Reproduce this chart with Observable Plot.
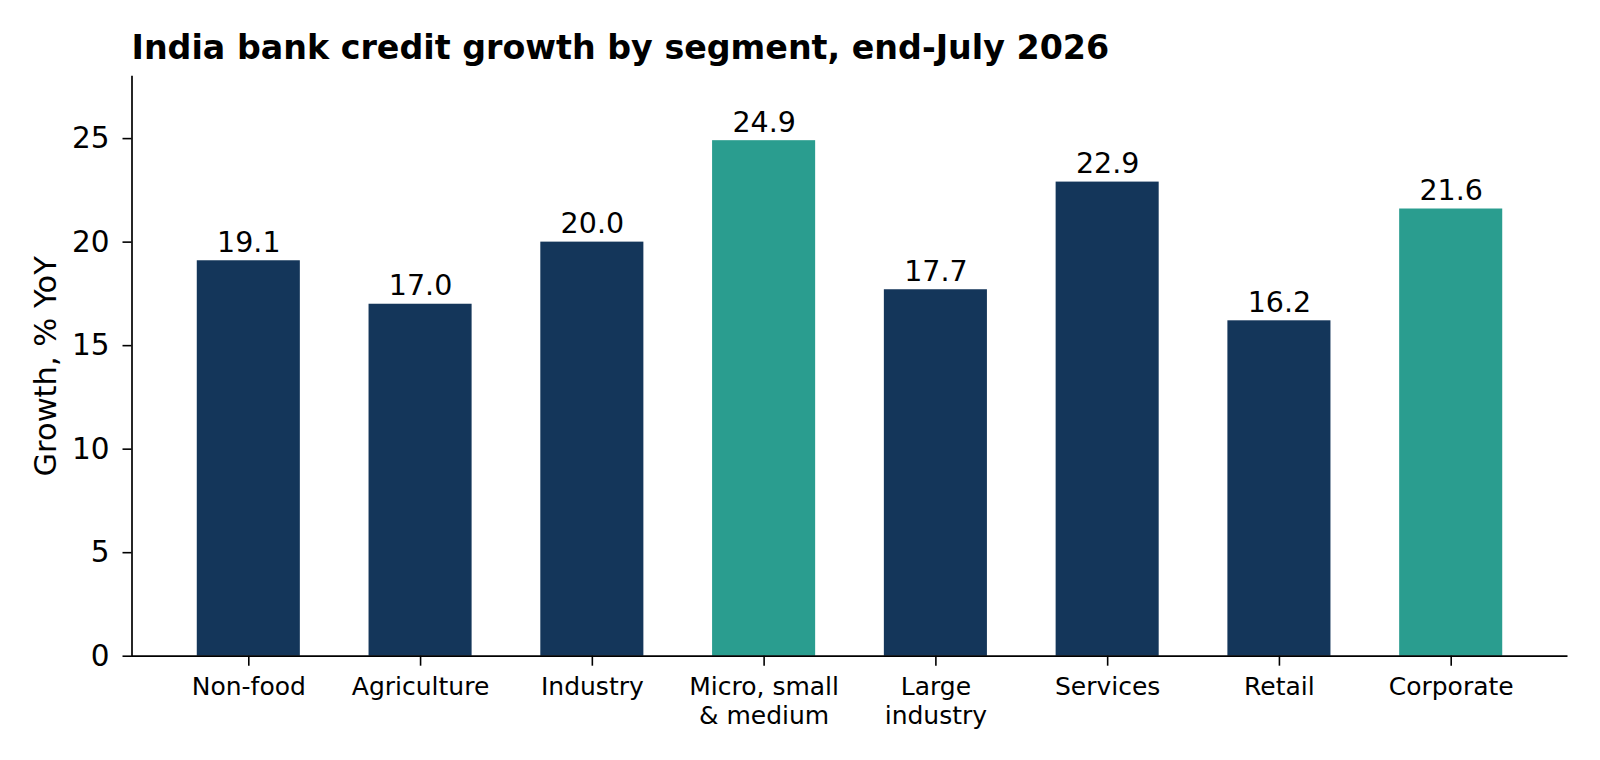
<!DOCTYPE html>
<html>
<head>
<meta charset="utf-8">
<script src="https://cdn.jsdelivr.net/npm/d3@7"></script>
<script src="https://cdn.jsdelivr.net/npm/@observablehq/plot@0.6"></script>
<style>
  body { margin: 0; background: #fff; font-family: "DejaVu Sans", sans-serif; }
  #wrap { width: 1600px; }
  #title { height: 70px; position: relative; }
  #title span { position: absolute; left: 131.5px; top: 31px; font-size: 33.3px; font-weight: bold; color: #000; line-height: 1; white-space: nowrap; }
  #chart svg { display: block; }
</style>
</head>
<body>
<div id="wrap">
  <div id="title"><span>India bank credit growth by segment, end-July 2026</span></div>
  <div id="chart"></div>
</div>
<script>
const categories = ["Non-food", "Agriculture", "Industry", "Micro, small\n& medium", "Large\nindustry", "Services", "Retail", "Corporate"];
const growth = [19.1, 17.0, 20.0, 24.9, 17.7, 22.9, 16.2, 21.6];
const highlight = [false, false, false, true, false, false, false, true];
const yTicks = [0, 5, 10, 15, 20, 25];

const navy = "#14365a";
const teal = "#2a9d8f";

const data = categories.map((c, i) => ({ segment: c, value: growth[i], hi: highlight[i] }));

const chart = Plot.plot({
  width: 1600,
  height: 690,
  marginLeft: 131.5,
  marginRight: 32.5,
  marginTop: 6,
  marginBottom: 104.3,
  style: { fontFamily: "DejaVu Sans, sans-serif", color: "#000", background: "#fff" },
  x: { domain: categories, paddingInner: 0.4, paddingOuter: 0.38, round: false },
  y: { domain: [0, 28] },
  marks: [
    Plot.barY(data, { x: "segment", y: "value", fill: d => d.hi ? teal : navy }),
    Plot.text(data, { x: "segment", y: "value", text: d => d.value.toFixed(1), dy: -9, lineAnchor: "bottom", fontSize: 28.5, fill: "#000" }),
    Plot.axisY({ ticks: yTicks, tickSize: 9, tickPadding: 13.5, fontSize: 29.5, strokeWidth: 1.6, label: null }),
    Plot.axisY({ ticks: [], tickSize: 0, label: "Growth, % YoY", labelAnchor: "center", labelArrow: "none", labelOffset: 98, fontSize: 30.5 }),
    Plot.axisX({ tickSize: 10, tickPadding: 7, fontSize: 25, strokeWidth: 1.6, lineHeight: 1.2, label: null }),
    Plot.frame({ anchor: "left", stroke: "#000", strokeWidth: 1.7 }),
    Plot.ruleY([0], { stroke: "#000", strokeWidth: 1.7 })
  ]
});
document.getElementById("chart").appendChild(chart);
</script>
</body>
</html>
